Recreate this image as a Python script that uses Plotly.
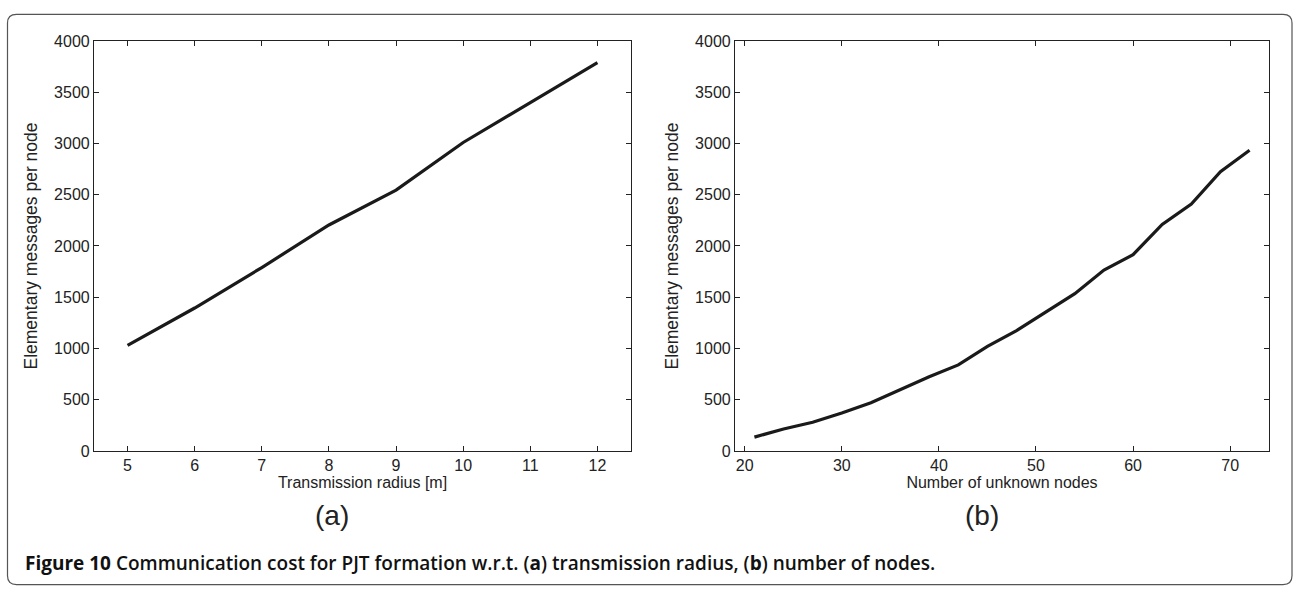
import plotly.graph_objects as go

# (a) cost versus transmission radius
radius_m = [5, 6, 7, 8, 9, 10, 11, 12]
msgs_vs_radius = [1030, 1395, 1790, 2205, 2545, 3010, 3400, 3790]

# (b) cost versus number of unknown nodes
unknown_nodes = [21, 24, 27, 30, 33, 36, 39, 42, 45, 48, 51, 54, 57, 60, 63, 66, 69, 72]
msgs_vs_nodes = [135, 215, 280, 370, 470, 595, 725, 840, 1020, 1175, 1355, 1535,
                 1765, 1915, 2210, 2410, 2725, 2935]

y_ticks = [0, 500, 1000, 1500, 2000, 2500, 3000, 3500, 4000]
radius_ticks = [5, 6, 7, 8, 9, 10, 11, 12]
nodes_ticks = [20, 30, 40, 50, 60, 70]

y_title = "Elementary messages per node"
x_title_a = "Transmission radius [m]"
x_title_b = "Number of unknown nodes"
panel_labels = ["(a)", "(b)"]
caption = ("<b>Figure 10</b> Communication cost for PJT formation w.r.t. "
           "(<b>a</b>) transmission radius, (<b>b</b>) number of nodes.")

W, H = 1294, 595
LINE = "#1a1a1a"
AXIS = "#222222"
TXT = "#222222"
FONT = "Liberation Sans, Arial, sans-serif"

fig = go.Figure()
fig.add_trace(go.Scatter(x=radius_m, y=msgs_vs_radius, mode="lines",
                         line=dict(color=LINE, width=3.2), xaxis="x", yaxis="y",
                         showlegend=False))
fig.add_trace(go.Scatter(x=unknown_nodes, y=msgs_vs_nodes, mode="lines",
                         line=dict(color=LINE, width=3.2), xaxis="x2", yaxis="y2",
                         showlegend=False))

common = dict(showline=True, linecolor=AXIS, linewidth=1.2, mirror="ticks",
              ticks="inside", ticklen=5, tickcolor=AXIS, tickwidth=1,
              showgrid=False, zeroline=False,
              tickfont=dict(family=FONT, size=16, color=TXT))

x_title_font = dict(family=FONT, size=16, color=TXT)
y_title_font = dict(family=FONT, size=17.5, color=TXT)

y_top, y_bot = 1 - 34 / H, 1 - 456 / H

fig.update_layout(
    width=W, height=H,
    margin=dict(l=0, r=0, t=0, b=0),
    paper_bgcolor="white", plot_bgcolor="white",
    xaxis=dict(domain=[94 / W, 631 / W], range=[4.5, 12.5], tickvals=radius_ticks,
               anchor="y", title=dict(text=x_title_a, standoff=2, font=x_title_font),
               **common),
    yaxis=dict(domain=[y_bot, y_top], range=[0, 4000], tickvals=y_ticks,
               anchor="x", title=dict(text=y_title, standoff=11, font=y_title_font),
               **common),
    xaxis2=dict(domain=[735 / W, 1269 / W], range=[19, 74], tickvals=nodes_ticks,
                anchor="y2", title=dict(text=x_title_b, standoff=2, font=x_title_font),
                **common),
    yaxis2=dict(domain=[y_bot, y_top], range=[0, 4000], tickvals=y_ticks,
                anchor="x2", title=dict(text=y_title, standoff=11, font=y_title_font),
                **common),
)

# panel labels under each plot
for label, cx in zip(panel_labels, [332, 982]):
    fig.add_annotation(text=label, x=cx / W, y=1 - 522 / H, xref="paper", yref="paper",
                       xanchor="center", yanchor="middle", showarrow=False,
                       font=dict(family=FONT, size=28, color=TXT))

# figure caption
fig.add_annotation(text=caption, x=23 / W, y=1 - 571 / H, xref="paper", yref="paper",
                   xanchor="left", yanchor="middle", showarrow=False, align="left",
                   font=dict(family="Open Sans, Noto Sans, sans-serif", size=19,
                             color="#111111", weight=600))

# rounded frame around the whole figure
x0, x1 = 7.5 / W, 1292 / W
yt, yb = 1 - 6.5 / H, 1 - 593.5 / H
rx, ry = 9 / W, 9 / H
frame = (f"M {x0 + rx},{yt} L {x1 - rx},{yt} Q {x1},{yt} {x1},{yt - ry} "
         f"L {x1},{yb + ry} Q {x1},{yb} {x1 - rx},{yb} "
         f"L {x0 + rx},{yb} Q {x0},{yb} {x0},{yb + ry} "
         f"L {x0},{yt - ry} Q {x0},{yt} {x0 + rx},{yt} Z")
fig.add_shape(type="path", path=frame, xref="paper", yref="paper",
              line=dict(color="#555555", width=1.2), layer="below")

fig.write_html("out.html")
